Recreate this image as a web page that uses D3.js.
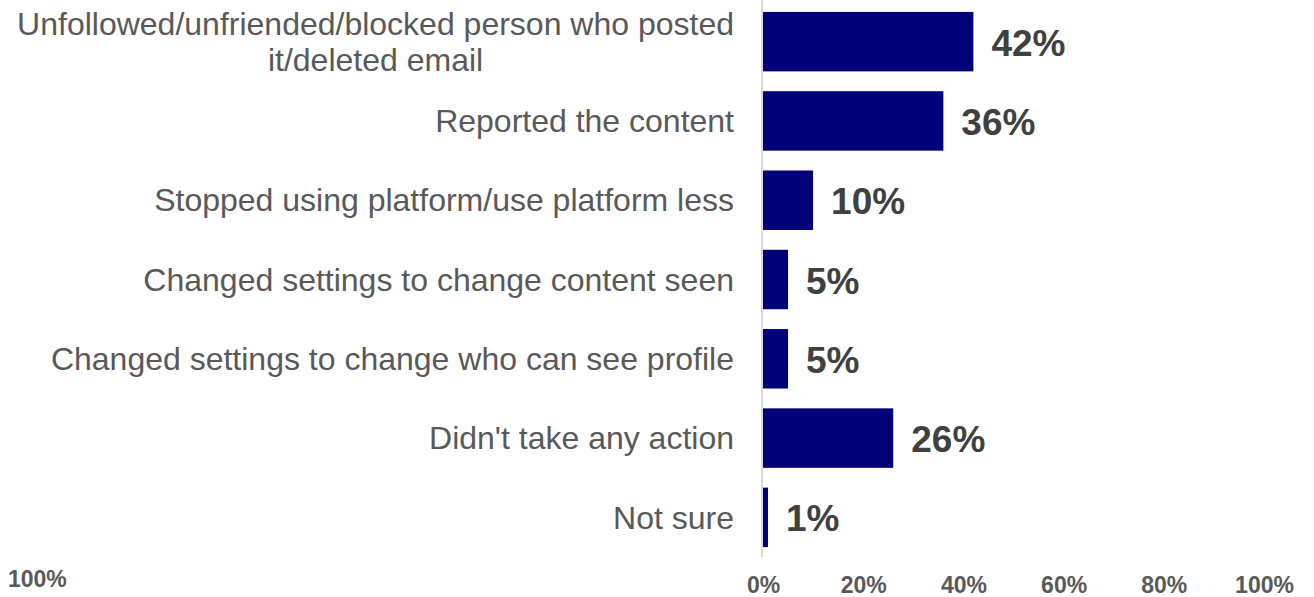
<!DOCTYPE html>
<html>
<head>
<meta charset="utf-8">
<script src="https://cdn.jsdelivr.net/npm/d3@7"></script>
<style>
  html, body { margin: 0; padding: 0; background: #ffffff; }
  svg { display: block; font-family: "Liberation Sans", Arial, sans-serif; }
</style>
</head>
<body>
<svg id="chart" width="1314" height="597"></svg>
<script>
// Actions taken after seeing the content (share of respondents, %)
const categories = [
  ["Unfollowed/unfriended/blocked person who posted", "it/deleted email"],
  ["Reported the content"],
  ["Stopped using platform/use platform less"],
  ["Changed settings to change content seen"],
  ["Changed settings to change who can see profile"],
  ["Didn't take any action"],
  ["Not sure"]
];
const values = [42, 36, 10, 5, 5, 26, 1];
const tickValues = [0, 20, 40, 60, 80, 100];
const strayLabel = "100%";

const svg = d3.select("#chart");
const keys = categories.map((c, i) => "c" + i);

const x = d3.scaleLinear().domain([0, 100]).range([763, 1264]);
const y = d3.scaleBand().domain(keys).range([2, 557])
  .paddingInner(0.25).paddingOuter(0.125);

// vertical baseline
svg.append("line")
  .attr("x1", 762).attr("x2", 762)
  .attr("y1", 0).attr("y2", 557)
  .attr("stroke", "#d9d9d9").attr("stroke-width", 2);

// bars
svg.append("g").selectAll("rect")
  .data(values)
  .join("rect")
  .attr("x", x(0))
  .attr("y", (d, i) => y(keys[i]))
  .attr("width", d => x(d) - x(0))
  .attr("height", y.bandwidth())
  .attr("fill", "#000078");

// value labels
svg.append("g").selectAll("text")
  .data(values)
  .join("text")
  .attr("x", d => x(d) + 18)
  .attr("y", (d, i) => y(keys[i]) + y.bandwidth() / 2)
  .attr("dy", "0.38em")
  .attr("font-size", 37)
  .attr("font-weight", "bold")
  .attr("fill", "#404040")
  .text(d => d + "%");

// category labels: block right aligned, lines centred within the block
const labelRight = 734;
const lineGap = 36;
const catG = svg.append("g");
categories.forEach((lines, i) => {
  const cy = y(keys[i]) + y.bandwidth() / 2;
  const t = catG.append("text")
    .attr("font-size", 32)
    .attr("fill", "#595959");
  const spans = lines.map((ln, j) => t.append("tspan")
    .attr("y", cy + (j - (lines.length - 1) / 2) * lineGap)
    .attr("dy", "0.35em")
    .text(ln));
  const widest = d3.max(spans, s => s.node().getComputedTextLength());
  spans.forEach(s => s
    .attr("text-anchor", "middle")
    .attr("x", labelRight - widest / 2));
});

// bottom axis tick labels
const axis = d3.axisBottom(x)
  .tickValues(tickValues)
  .tickFormat(d => d + "%")
  .tickSize(0)
  .tickPadding(0);
const axG = svg.append("g")
  .attr("transform", "translate(0,577)")
  .call(axis);
axG.select(".domain").remove();
axG.selectAll("text")
  .attr("font-family", "Liberation Sans, Arial, sans-serif")
  .attr("font-size", 23)
  .attr("font-weight", "bold")
  .attr("fill", "#595959")
  .attr("dy", "0.71em");

// lone label at lower left
svg.append("text")
  .attr("x", 8).attr("y", 587)
  .attr("font-size", 23)
  .attr("font-weight", "bold")
  .attr("fill", "#595959")
  .text(strayLabel);
</script>
</body>
</html>
